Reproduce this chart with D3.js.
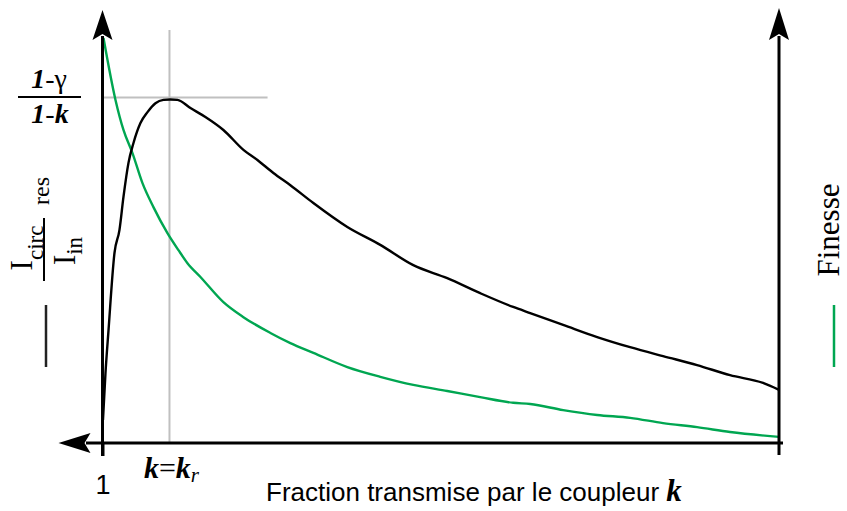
<!DOCTYPE html>
<html>
<head>
<meta charset="utf-8">
<script src="https://cdn.jsdelivr.net/npm/d3@7/dist/d3.min.js"></script>
<style>
  html, body { margin: 0; padding: 0; background: #fff; }
  svg { display: block; }
</style>
</head>
<body>
<svg id="chart" width="847" height="511"></svg>
<script>
// Position along the coupler axis (0 = k of 1 at the left, 100 = right edge)
const kPos = [0.07, 0.44, 0.89, 1.77, 2.51, 3.10, 3.84, 4.58, 5.61, 6.65, 7.83, 9.01, 10.04, 11.08,
  13.0, 15.21, 17.87, 20.83, 22.9, 25.26, 27.77, 31.17, 36.19, 41.06, 45.94, 50.96, 55.83, 60.71,
  63.22, 68.09, 73.12, 77.99, 82.86, 87.89, 92.76, 97.64, 100];
// Circulating / input intensity at resonance (relative units)
const intensity = [5.7, 17.2, 27.8, 46.8, 52.5, 60.6, 69.0, 73.9, 78.8, 81.5, 83.7, 84.5, 84.6, 84.5,
  82.5, 80.3, 77.1, 72.2, 69.7, 66.5, 63.5, 59.1, 53.2, 48.8, 43.8, 40.6, 36.9, 33.5,
  32.0, 29.1, 26.1, 23.6, 21.4, 19.2, 16.7, 14.8, 13.1];

const finessePos = [0.15, 1.92, 3.10, 4.43, 5.91, 7.53, 9.6, 11.23, 12.56, 14.48, 17.87, 20.83, 24.82,
  27.77, 31.17, 36.19, 41.06, 45.94, 50.96, 55.83, 60.71, 63.22, 68.09, 73.12, 77.99, 82.86,
  87.89, 92.76, 100];
const finesse = [99.75, 84.5, 77.1, 71.4, 64.0, 58.1, 51.7, 47.5, 44.3, 40.9, 34.7, 31.0, 27.1,
  24.6, 22.2, 18.7, 16.3, 14.3, 12.8, 11.3, 9.9, 9.6, 8.1, 6.9, 6.2, 4.9,
  3.9, 2.7, 1.5];

// Optimum coupling k = k_r and the peak level (1-γ)/(1-k)
const kr = 9.9;
const peakLevel = 85.1;
const peakGuideEnd = 24.4;
const tickLabels = ["1"];

const svg = d3.select("#chart");
const green = "#00a651";
const serif = "'Liberation Serif', 'Times New Roman', serif";
const sans = "'Liberation Sans', Arial, sans-serif";

const x = d3.scaleLinear().domain([0, 100]).range([102.5, 779]);
const y = d3.scaleLinear().domain([0, 100]).range([443, 37]);

const x0 = x(0), x1 = x(100), y0 = y(0);

// Guide lines at k = k_r and at the peak level
svg.append("line")
  .attr("x1", x(kr)).attr("x2", x(kr))
  .attr("y1", y(101.7)).attr("y2", y0)
  .attr("stroke", "#c0c0c0").attr("stroke-width", 2);
svg.append("line")
  .attr("x1", x0).attr("x2", x(peakGuideEnd))
  .attr("y1", y(peakLevel)).attr("y2", y(peakLevel))
  .attr("stroke", "#c0c0c0").attr("stroke-width", 2);

// Curves
const line = d3.line().x(d => x(d[0])).y(d => y(d[1])).curve(d3.curveMonotoneX);
svg.append("path")
  .datum(finessePos.map((p, i) => [p, finesse[i]]))
  .attr("d", line).attr("fill", "none")
  .attr("stroke", green).attr("stroke-width", 2.4).attr("stroke-linejoin", "round");
svg.append("path")
  .datum(kPos.map((p, i) => [p, intensity[i]]))
  .attr("d", line).attr("fill", "none")
  .attr("stroke", "#000").attr("stroke-width", 2.4).attr("stroke-linejoin", "round");

// Axes
const axisG = svg.append("g").attr("transform", `translate(0,${y0})`)
  .call(d3.axisBottom(x).tickValues([0]).tickFormat(() => tickLabels[0])
    .tickSize(13).tickPadding(19));
axisG.select(".domain").remove();
axisG.selectAll(".tick line").attr("stroke", "#000").attr("stroke-width", 3);
axisG.selectAll(".tick text").attr("font-family", sans).attr("font-size", 27).attr("fill", "#000");

// horizontal axis line with arrow pointing left
svg.append("line").attr("x1", 86).attr("x2", x1 + 4)
  .attr("y1", y0).attr("y2", y0).attr("stroke", "#000").attr("stroke-width", 3);
svg.append("path")
  .attr("d", `M${x0 - 44},${y0} L${x0 - 12},${y0 - 10} L${x0 - 18},${y0} L${x0 - 12},${y0 + 10} Z`)
  .attr("fill", "#000");

// left vertical axis
svg.append("line").attr("x1", x0).attr("x2", x0)
  .attr("y1", 36).attr("y2", y0 + 13).attr("stroke", "#000").attr("stroke-width", 3);
svg.append("path")
  .attr("d", `M${x0},10 L${x0 + 10},40 L${x0},34 L${x0 - 10},40 Z`).attr("fill", "#000");

// right vertical axis
svg.append("line").attr("x1", x1).attr("x2", x1)
  .attr("y1", 36).attr("y2", y0 + 12).attr("stroke", "#000").attr("stroke-width", 3);
svg.append("path")
  .attr("d", `M${x1},8 L${x1 + 10},40 L${x1},34 L${x1 - 10},40 Z`).attr("fill", "#000");

// k = k_r label
const kLab = svg.append("text").attr("x", x(kr) + 2).attr("y", 478)
  .attr("text-anchor", "middle").attr("font-family", serif).attr("font-size", 30);
kLab.append("tspan").attr("font-style", "italic").attr("font-weight", "bold").text("k");
kLab.append("tspan").text("=");
kLab.append("tspan").attr("font-style", "italic").attr("font-weight", "bold").text("k");
kLab.append("tspan").attr("font-style", "italic").attr("font-size", 21).attr("dy", 4).text("r");

// Axis title
const title = svg.append("text").attr("x", 266).attr("y", 501)
  .attr("font-family", sans).attr("font-size", 26);
title.append("tspan").text("Fraction transmise par le coupleur ");
title.append("tspan").attr("font-family", serif).attr("font-style", "italic")
  .attr("font-weight", "bold").attr("font-size", 31).text("k");

// Peak level (1-γ)/(1-k)
const fr = svg.append("g").attr("font-family", serif).attr("font-size", 28).attr("text-anchor", "middle");
const num = fr.append("text").attr("x", 49).attr("y", 88);
num.append("tspan").attr("font-style", "italic").attr("font-weight", "bold").text("1");
num.append("tspan").text("-");
num.append("tspan").text("γ");
fr.append("line").attr("x1", 18).attr("x2", 81).attr("y1", 97).attr("y2", 97)
  .attr("stroke", "#000").attr("stroke-width", 2);
const den = fr.append("text").attr("x", 50).attr("y", 123);
den.append("tspan").attr("font-style", "italic").attr("font-weight", "bold").text("1");
den.append("tspan").text("-");
den.append("tspan").attr("font-style", "italic").attr("font-weight", "bold").text("k");

// Left axis label: (I_circ / I_in)_res, rotated
const lg = svg.append("g").attr("transform", "translate(44,250) rotate(-90)")
  .attr("font-family", serif).attr("fill", "#000");
const n1 = lg.append("text").attr("x", 2).attr("y", -12).attr("text-anchor", "middle");
n1.append("tspan").attr("font-size", 31).text("I");
n1.append("tspan").attr("font-size", 23).attr("dy", 11).text("circ");
lg.append("line").attr("x1", -31).attr("x2", 32).attr("y1", 0).attr("y2", 0)
  .attr("stroke", "#000").attr("stroke-width", 2);
const d1 = lg.append("text").attr("x", -1).attr("y", 31).attr("text-anchor", "middle");
d1.append("tspan").attr("font-size", 31).text("I");
d1.append("tspan").attr("font-size", 23).attr("dy", 7).text("in");
lg.append("text").attr("x", 45).attr("y", 5).attr("font-size", 24).text("res");

// legend strokes
svg.append("line").attr("x1", 46).attr("x2", 46).attr("y1", 305).attr("y2", 367)
  .attr("stroke", "#222").attr("stroke-width", 2.5);
svg.append("line").attr("x1", 834).attr("x2", 834).attr("y1", 305).attr("y2", 367)
  .attr("stroke", green).attr("stroke-width", 2.5);

// Right axis label
svg.append("text").attr("transform", "translate(839,230) rotate(-90)")
  .attr("text-anchor", "middle").attr("font-family", serif).attr("font-size", 31)
  .text("Finesse");
</script>
</body>
</html>
